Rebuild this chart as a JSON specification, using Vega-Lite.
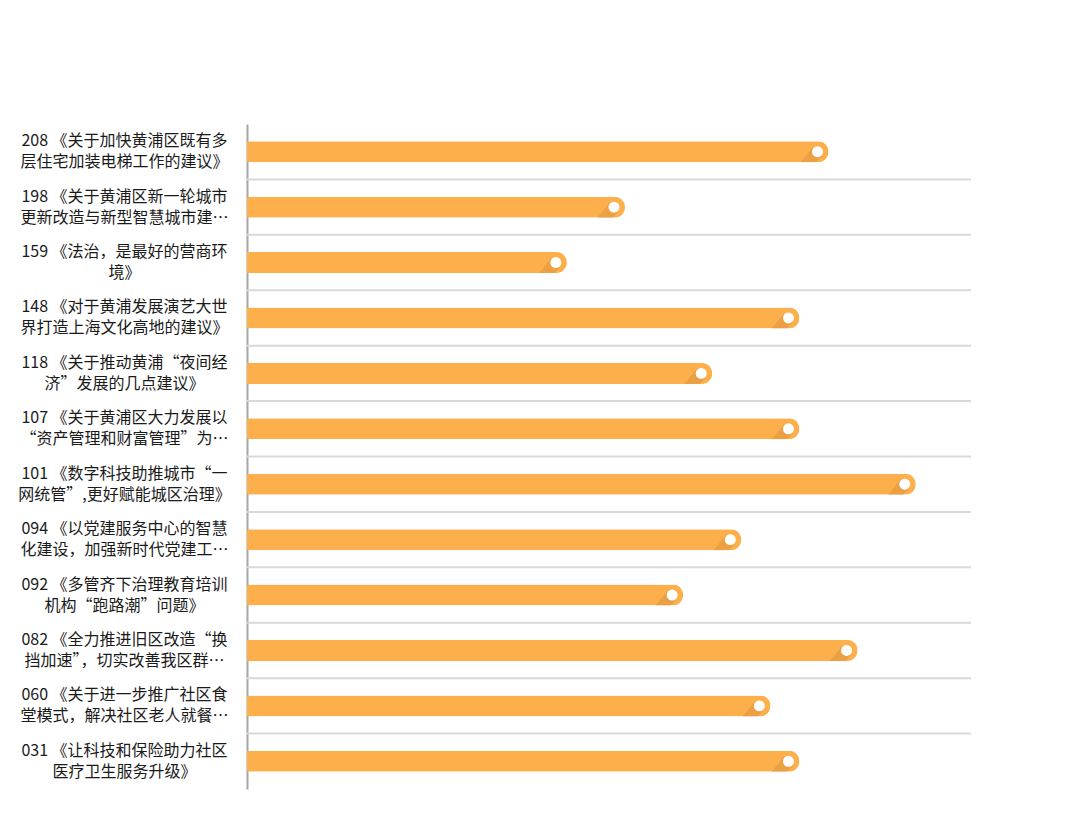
{
  "$schema": "https://vega.github.io/schema/vega-lite/v6.json",
  "width": 724,
  "height": 665,
  "autosize": {"type": "none"},
  "padding": {"left": 247, "top": 124, "right": 109, "bottom": 45},
  "background": "#ffffff",
  "data": {
    "values": [
      {"item": "208 《关于加快黄浦区既有多|层住宅加装电梯工作的建议》", "count": 20},
      {"item": "198 《关于黄浦区新一轮城市|更新改造与新型智慧城市建…", "count": 13},
      {"item": "159 《法治，是最好的营商环|境》", "count": 11},
      {"item": "148 《对于黄浦发展演艺大世|界打造上海文化高地的建议》", "count": 19},
      {"item": "118 《关于推动黄浦“夜间经|济”发展的几点建议》", "count": 16},
      {"item": "107 《关于黄浦区大力发展以|“资产管理和财富管理”为…", "count": 19},
      {"item": "101 《数字科技助推城市“一|网统管”,更好赋能城区治理》", "count": 23},
      {"item": "094 《以党建服务中心的智慧|化建设，加强新时代党建工…", "count": 17},
      {"item": "092 《多管齐下治理教育培训|机构“跑路潮”问题》", "count": 15},
      {"item": "082 《全力推进旧区改造“换|挡加速”，切实改善我区群…", "count": 21},
      {"item": "060 《关于进一步推广社区食|堂模式，解决社区老人就餐…", "count": 18},
      {"item": "031 《让科技和保险助力社区|医疗卫生服务升级》", "count": 19}
    ]
  },
  "encoding": {
    "y": {
      "field": "item",
      "type": "nominal",
      "sort": null,
      "scale": {"paddingInner": 0, "paddingOuter": 0},
      "axis": {
        "title": null,
        "ticks": false,
        "grid": false,
        "domainColor": "#A6A6A6",
        "domainWidth": 2,
        "labelExpr": "split(datum.value, '|')",
        "labelAlign": "center",
        "labelBaseline": "middle",
        "labelOffset": -10.5,
        "labelPadding": 123,
        "labelLimit": 0,
        "labelFont": "Noto Sans CJK SC",
        "labelFontSize": 16,
        "labelLineHeight": 21,
        "labelColor": "#1a1a1a"
      }
    }
  },
  "layer": [
    {
      "transform": [{"filter": "datum.item !== '031 《让科技和保险助力社区|医疗卫生服务升级》'"}],
      "mark": {"type": "rule", "color": "#D9D9D9", "strokeWidth": 2},
      "encoding": {
        "y": {"field": "item", "type": "nominal", "sort": null, "bandPosition": 1}
      }
    },
    {
      "mark": {"type": "bar", "color": "#FCAF4B", "size": 21, "cornerRadiusEnd": 10.5},
      "encoding": {
        "x": {
          "field": "count",
          "type": "quantitative",
          "scale": {"domain": [0, 24.9], "nice": false},
          "axis": null
        }
      }
    },
    {
      "mark": {"type": "point", "filled": true, "color": "#D08A38", "opacity": 0.4, "size": 441, "xOffset": -11, "shape": "M -0.42 -0.42 L 0.42 0.42 L -0.16 1 L -1.6 1 Z"},
      "encoding": {
        "x": {"field": "count", "type": "quantitative"}
      }
    },
    {
      "mark": {"type": "point", "filled": true, "color": "#ffffff", "opacity": 1, "size": 120, "xOffset": -11},
      "encoding": {
        "x": {"field": "count", "type": "quantitative"}
      }
    }
  ],
  "config": {
    "view": {"stroke": null}
  }
}
